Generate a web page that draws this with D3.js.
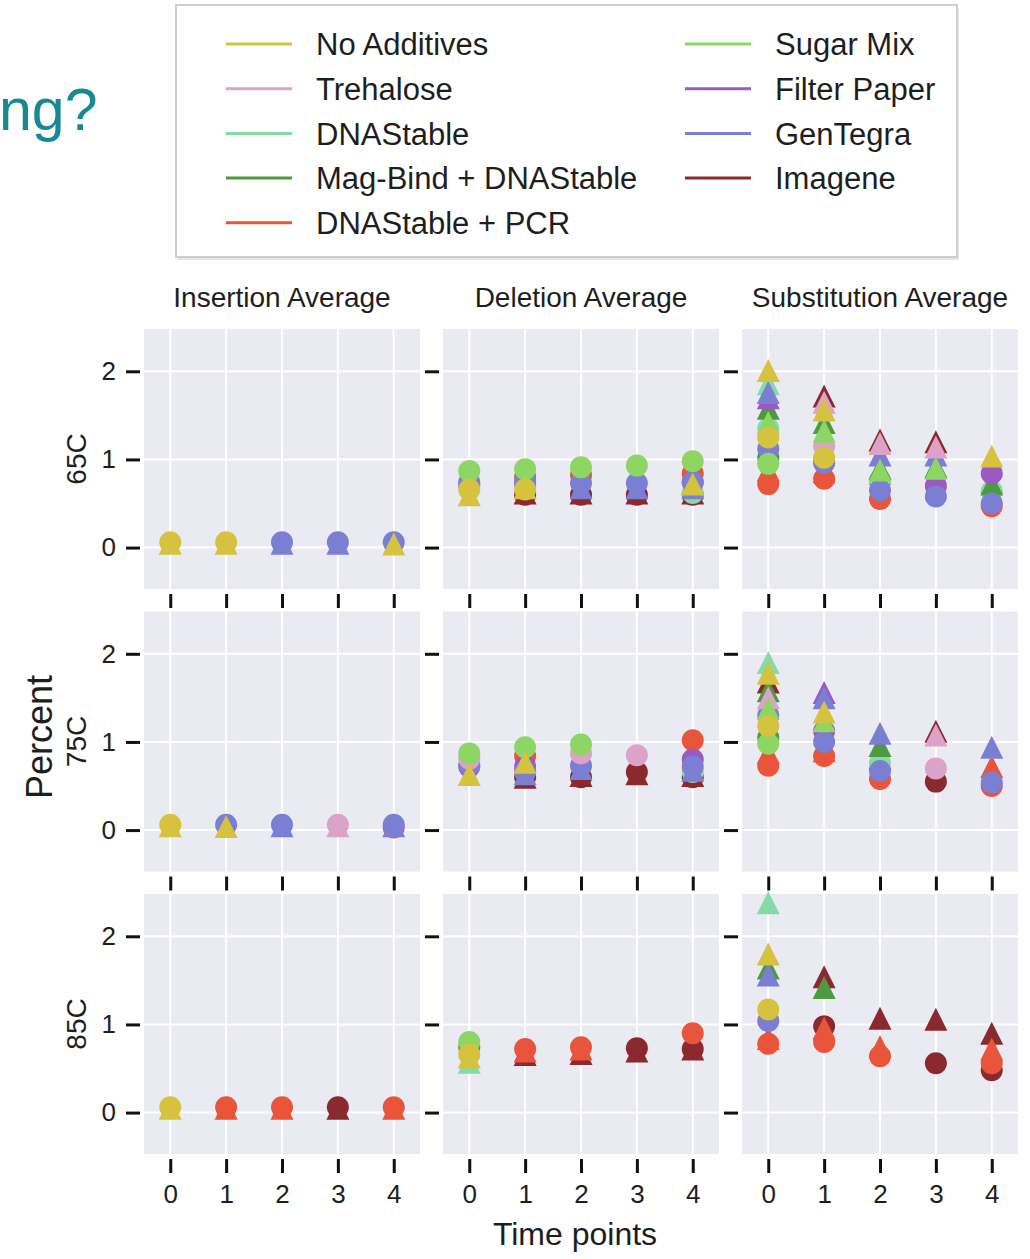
<!DOCTYPE html>
<html>
<head>
<meta charset="utf-8">
<script src="https://cdn.jsdelivr.net/npm/d3@7"></script>
<style>
  body { margin: 0; background: #fff; }
  svg text { font-family: "Liberation Sans", Arial, sans-serif; fill: #1e1e1e; }
</style>
</head>
<body>
<div id="chart"></div>
<script>
const _ = null;

const additives = ['No Additives', 'Trehalose', 'DNAStable', 'Mag-Bind + DNAStable', 'DNAStable + PCR',
    'Sugar Mix', 'Filter Paper', 'GenTegra', 'Imagene'];
const additiveColors = ['#d5c23f', '#dca3c8', '#84dba8', '#4e9a3f', '#e8553a',
    '#8ed663', '#9b59c2', '#7b7fd3', '#8b2a2e'];
const timePoints = [0, 1, 2, 3, 4];
const yTicks = [0, 1, 2];
const temps = ['65C', '75C', '85C'];
const metrics = ['Insertion Average', 'Deletion Average', 'Substitution Average'];

// one row per additive (legend order), one value per time point; circles and triangles
const ins65Circle = [[.06, .06, _, _, _], [_, _, _, _, _], [_, _, _, _, _], [_, _, _, _, _], [_, _, _, _, _],
    [_, _, _, _, _], [_, _, _, _, _], [_, _, .06, .06, .06], [_, _, _, _, _]];
const ins65Tri = [[.05, .05, _, _, .04], [_, _, _, _, _], [_, _, _, _, _], [_, _, _, _, _], [_, _, _, _, _],
    [_, _, _, _, _], [_, _, _, _, _], [_, _, .05, .05, _], [_, _, _, _, _]];
const ins75Circle = [[.06, _, _, _, _], [_, _, _, .06, _], [_, _, _, _, _], [_, _, _, _, _], [_, _, _, _, .03],
    [_, _, _, _, _], [_, _, _, _, _], [_, .06, .06, _, .06], [_, _, _, _, _]];
const ins75Tri = [[.05, .04, _, _, _], [_, _, _, .05, _], [_, _, _, _, _], [_, _, _, _, _], [_, _, _, _, _],
    [_, _, _, _, _], [_, _, _, _, _], [_, _, .05, _, .05], [_, _, _, _, _]];
const ins85Circle = [[.06, _, _, _, _], [_, _, _, _, _], [_, _, _, _, _], [_, _, _, _, _], [_, .06, .06, _, .06],
    [_, _, _, _, _], [_, _, _, _, _], [_, _, _, _, _], [_, _, _, .06, _]];
const ins85Tri = [[.05, _, _, _, _], [_, _, _, _, _], [_, _, _, _, _], [_, _, _, _, _], [_, .05, .05, _, .05],
    [_, _, _, _, _], [_, _, _, _, _], [_, _, _, _, _], [_, _, _, .05, _]];

const del65Circle = [[.66, .66, _, _, _], [_, _, _, _, _], [_, _, _, _, .62], [_, _, _, _, _], [_, .8, .82, _, .84],
    [.87, .89, .91, .93, .98], [.71, .72, _, _, .74], [.74, .75, .73, .73, .74], [_, .6, .6, .6, .6]];
const del65Tri = [[.6, .68, _, _, .72], [_, _, _, _, _], [_, _, _, _, _], [_, _, _, _, _], [_, _, _, _, _],
    [_, _, _, _, _], [_, _, _, _, _], [_, _, .68, .68, .68], [_, .62, .62, .62, .62]];
const del75Circle = [[_, _, _, _, _], [.81, _, .87, .85, _], [_, _, _, _, .66], [_, _, _, _, _], [_, .84, _, _, 1.02],
    [.87, .94, .97, _, _], [.72, .72, _, _, .8], [.74, .66, .73, _, .72], [_, .6, .6, .66, .6]];
const del75Tri = [[.63, .77, _, _, _], [_, _, _, _, _], [_, _, _, _, _], [_, _, _, _, _], [_, _, _, _, _],
    [_, _, _, _, _], [_, _, _, _, _], [_, .64, .7, _, .68], [_, .6, .62, .64, .62]];
const del85Circle = [[.66, _, _, _, _], [_, _, _, _, _], [_, _, _, _, _], [.74, _, _, _, _], [_, .72, .74, _, .9],
    [.8, _, _, _, _], [_, _, _, _, _], [_, _, _, _, _], [_, _, _, .73, .72]];
const del85Tri = [[.63, _, _, _, _], [_, _, _, _, _], [.57, _, _, _, _], [_, _, _, _, _], [_, .7, .72, _, _],
    [_, _, _, _, _], [_, _, _, _, _], [_, _, _, _, _], [_, .66, .67, .7, .72]];

const sub65Circle = [[1.25, 1.02, _, _, _], [_, 1.15, _, _, _], [1.35, _, .76, _, .64], [1.02, _, _, _, _],
    [.72, .78, .55, _, .47], [.95, _, _, _, _], [_, .98, _, .7, .84], [1.12, .96, .65, .58, .5], [_, _, _, _, _]];
const sub65Tri = [[2.01, 1.56, _, _, 1.04], [_, 1.65, 1.18, 1.14, _], [1.86, _, _, _, _], [1.58, 1.42, .9, .92, .72],
    [.88, .86, .84, _, .75], [1.42, 1.32, .88, .9, _], [1.7, _, _, _, _], [1.76, _, 1.05, 1.05, _], [_, 1.72, 1.22, 1.2, _]];
const sub75Circle = [[1.18, _, _, _, _], [_, _, _, .7, _], [_, _, .76, _, _], [1.05, _, _, _, _],
    [.73, .84, .58, _, .5], [.98, _, _, _, _], [_, 1.12, _, _, _], [1.3, 1.0, .67, _, .54], [_, _, _, .55, _]];
const sub75Tri = [[1.78, 1.34, _, _, _], [1.5, _, _, 1.08, _], [1.9, _, _, _, _], [1.58, _, .96, _, _],
    [.88, .9, .82, _, .72], [1.38, 1.24, _, _, _], [_, 1.56, _, _, _], [_, 1.5, 1.1, _, .94], [1.68, _, _, 1.12, _]];
const sub85Circle = [[1.17, _, _, _, _], [_, _, _, _, _], [_, _, _, _, _], [_, _, _, _, _],
    [.78, .8, .64, _, .56], [_, _, _, _, _], [_, _, _, _, _], [1.04, _, _, _, _], [_, .98, _, .56, .48]];
const sub85Tri = [[1.8, _, _, _, _], [_, _, _, _, _], [2.38, _, _, _, _], [1.64, 1.42, _, _, _],
    [.84, .96, .75, _, .72], [_, _, _, _, _], [_, _, _, _, _], [1.56, _, _, _, _], [_, 1.54, 1.07, 1.06, .9]];

const panels = [
    [[ins65Circle, ins65Tri], [del65Circle, del65Tri], [sub65Circle, sub65Tri]],
    [[ins75Circle, ins75Tri], [del75Circle, del75Tri], [sub75Circle, sub75Tri]],
    [[ins85Circle, ins85Tri], [del85Circle, del85Tri], [sub85Circle, sub85Tri]]
];
// which additive is painted first (bottom) to last (top)
const drawOrder = [8, 4, 2, 3, 6, 7, 1, 5, 0];

const width = 1030;
const height = 1259;
const colLeft = [144, 443, 742];
const rowTop = [329, 611.5, 894];
const panelW = 276;
const panelH = 260;
const markerR = 11;
const triHalf = 11.5;

const svg = d3.select('#chart')
    .append('svg')
    .attr('width', width)
    .attr('height', height);

const xScale = d3.scaleLinear().domain([-0.47, 4.47]).range([0, panelW]);
const yScale = d3.scaleLinear().domain([-0.47, 2.48]).range([panelH, 0]);

const triPath = 'M0,' + (-triHalf) + 'L' + triHalf + ',' + triHalf + 'L' + (-triHalf) + ',' + triHalf + 'Z';

// cut-off slide title on the left
svg.append('text')
    .attr('x', -1)
    .attr('y', 130)
    .style('font-size', '59px')
    .style('fill', '#178993')
    .text('ng?');

// legend
const legend = svg.append('g');
legend.append('rect')
    .attr('x', 178).attr('y', 8)
    .attr('width', 781).attr('height', 252)
    .attr('fill', '#e6e6e6');
legend.append('rect')
    .attr('x', 176).attr('y', 5)
    .attr('width', 781).attr('height', 252)
    .attr('fill', '#fff')
    .attr('stroke', '#cfcfcf')
    .attr('stroke-width', 2);

const legendItems = legend.selectAll('g.item')
    .data(additives)
    .enter()
    .append('g')
    .attr('class', 'item')
    .attr('transform', function(d, i) {
        const lx = i < 5 ? 226 : 685;
        const ly = 44 + (i < 5 ? i : i - 5) * 44.7;
        return 'translate(' + lx + ',' + ly + ')';
    });
legendItems.append('line')
    .attr('x1', 0).attr('x2', 66)
    .attr('stroke', function(d, i) { return additiveColors[i]; })
    .attr('stroke-width', 3);
legendItems.append('text')
    .attr('x', 90)
    .attr('dy', '0.36em')
    .style('font-size', '31px')
    .text(function(d) { return d; });

// panels
temps.forEach(function(temp, r) {
    metrics.forEach(function(metric, c) {
        const g = svg.append('g')
            .attr('transform', 'translate(' + colLeft[c] + ',' + rowTop[r] + ')');

        g.append('rect')
            .attr('width', panelW)
            .attr('height', panelH)
            .attr('fill', '#eaeaf2');

        g.append('g')
            .selectAll('line')
            .data(timePoints)
            .enter()
            .append('line')
            .attr('x1', function(d) { return xScale(d); })
            .attr('x2', function(d) { return xScale(d); })
            .attr('y1', 0).attr('y2', panelH)
            .attr('stroke', '#fff').attr('stroke-width', 2);

        g.append('g')
            .selectAll('line')
            .data(yTicks)
            .enter()
            .append('line')
            .attr('y1', function(d) { return yScale(d); })
            .attr('y2', function(d) { return yScale(d); })
            .attr('x1', 0).attr('x2', panelW)
            .attr('stroke', '#fff').attr('stroke-width', 2);

        // markers, additive by additive
        const circleData = panels[r][c][0];
        const triData = panels[r][c][1];
        const marks = g.append('g');
        drawOrder.forEach(function(a) {
            const circles = [];
            const tris = [];
            timePoints.forEach(function(t, k) {
                if (circleData[a][k] !== null) circles.push([t, circleData[a][k]]);
                if (triData[a][k] !== null) tris.push([t, triData[a][k]]);
            });
            marks.append('g')
                .selectAll('circle')
                .data(circles)
                .enter()
                .append('circle')
                .attr('cx', function(d) { return xScale(d[0]); })
                .attr('cy', function(d) { return yScale(d[1]); })
                .attr('r', markerR)
                .attr('fill', additiveColors[a]);
            marks.append('g')
                .selectAll('path')
                .data(tris)
                .enter()
                .append('path')
                .attr('d', triPath)
                .attr('transform', function(d) {
                    return 'translate(' + xScale(d[0]) + ',' + yScale(d[1]) + ')';
                })
                .attr('fill', additiveColors[a]);
        });

        const xAxis = d3.axisBottom(xScale)
            .tickValues(timePoints)
            .tickSize(14)
            .tickPadding(12)
            .tickFormat(r === 2 ? d3.format('d') : '');
        const xg = g.append('g')
            .attr('transform', 'translate(0,' + (panelH + 5) + ')')
            .call(xAxis);

        const yAxis = d3.axisLeft(yScale)
            .tickValues(yTicks)
            .tickSize(14)
            .tickPadding(10)
            .tickFormat(c === 0 ? d3.format('d') : '');
        const yg = g.append('g')
            .attr('transform', 'translate(-4,0)')
            .call(yAxis);

        [xg, yg].forEach(function(ax) {
            ax.select('.domain').remove();
            ax.selectAll('.tick line').attr('stroke', '#111').attr('stroke-width', 3);
            ax.selectAll('.tick text')
                .style('font-size', '26px')
                .style('font-family', '"Liberation Sans", Arial, sans-serif')
                .attr('fill', '#1e1e1e');
        });

        if (r === 0) {
            svg.append('text')
                .attr('x', colLeft[c] + panelW / 2)
                .attr('y', 307)
                .attr('text-anchor', 'middle')
                .style('font-size', '28px')
                .text(metric);
        }
        if (c === 0) {
            svg.append('text')
                .attr('transform', 'translate(86,' + (rowTop[r] + panelH / 2) + ') rotate(-90)')
                .attr('text-anchor', 'middle')
                .style('font-size', '28px')
                .text(temp);
        }
    });
});

svg.append('text')
    .attr('transform', 'translate(52,737) rotate(-90)')
    .attr('text-anchor', 'middle')
    .style('font-size', '36px')
    .text('Percent');

svg.append('text')
    .attr('x', 575)
    .attr('y', 1245)
    .attr('text-anchor', 'middle')
    .style('font-size', '32px')
    .text('Time points');
</script>
</body>
</html>
